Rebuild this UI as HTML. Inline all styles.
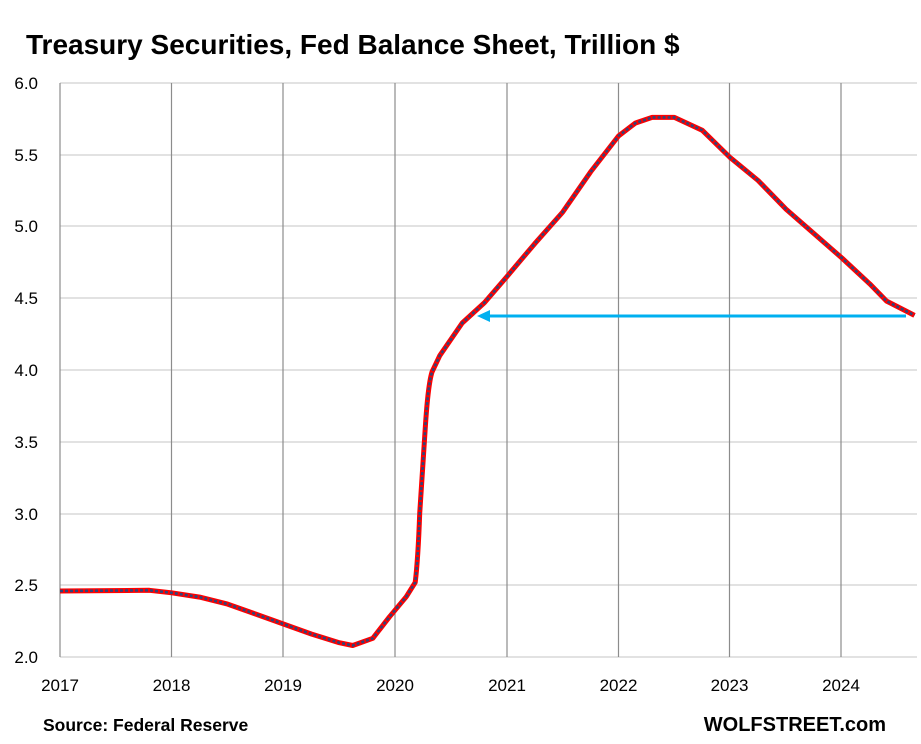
<!DOCTYPE html>
<html><head><style>
body{margin:0;background:#fff;}
svg text{font-family:"Liberation Sans",sans-serif;}
</style></head><body>
<svg width="921" height="739" viewBox="0 0 921 739" xmlns="http://www.w3.org/2000/svg">
<rect width="921" height="739" fill="#fff"/>
<text x="26" y="54" font-size="28" font-weight="bold" fill="#000">Treasury Securities, Fed Balance Sheet, Trillion $</text>
<g stroke="#d9d9d9" stroke-width="1.5">
<line x1="60" y1="83" x2="917" y2="83"/>
<line x1="60" y1="155" x2="917" y2="155"/>
<line x1="60" y1="226" x2="917" y2="226"/>
<line x1="60" y1="298" x2="917" y2="298"/>
<line x1="60" y1="370" x2="917" y2="370"/>
<line x1="60" y1="442" x2="917" y2="442"/>
<line x1="60" y1="514" x2="917" y2="514"/>
<line x1="60" y1="585" x2="917" y2="585"/>
<line x1="60" y1="657" x2="917" y2="657"/>
</g>
<g stroke="#8c8c8c" stroke-width="1.2">
<line x1="60" y1="83" x2="60" y2="657"/>
<line x1="171.5" y1="83" x2="171.5" y2="657"/>
<line x1="283" y1="83" x2="283" y2="657"/>
<line x1="395" y1="83" x2="395" y2="657"/>
<line x1="507" y1="83" x2="507" y2="657"/>
<line x1="618.5" y1="83" x2="618.5" y2="657"/>
<line x1="729.5" y1="83" x2="729.5" y2="657"/>
<line x1="841" y1="83" x2="841" y2="657"/>
</g>
<g font-size="17" fill="#000" text-anchor="end">
<text x="38" y="89">6.0</text><text x="38" y="161">5.5</text><text x="38" y="232">5.0</text><text x="38" y="304">4.5</text><text x="38" y="376">4.0</text><text x="38" y="448">3.5</text><text x="38" y="520">3.0</text><text x="38" y="591">2.5</text><text x="38" y="663">2.0</text>
</g>
<g font-size="17" fill="#000" text-anchor="middle">
<text x="60" y="691">2017</text><text x="171.5" y="691">2018</text><text x="283" y="691">2019</text><text x="395" y="691">2020</text><text x="507" y="691">2021</text><text x="618.5" y="691">2022</text><text x="729.5" y="691">2023</text><text x="841" y="691">2024</text>
</g>
<text x="43" y="731" font-size="17.5" font-weight="bold">Source: Federal Reserve</text>
<text x="886" y="731" font-size="20" font-weight="bold" text-anchor="end">WOLFSTREET.com</text>
<path d="M60,591 L149.4,590.3 L171.7,592.8 L199.6,597.1 L227.6,604.1 L255.5,614 L283.4,624 L311.3,634 L339.3,642.7 L352.7,645.5 L372.8,638.3 L389.5,616.8 L406.3,596.7 L415.2,582.4 Q418,560 419.7,513.5 L425.3,427.4 Q428,385 432,372 L439.8,355.6 L462.2,323 L484.5,302.6 L506.8,276.7 L534.7,243.7 L562.7,212.1 L590.6,171.9 L618.5,136 L635.3,123.1 L652.1,117.4 L674.4,117.4 L702.3,130.3 L730.2,157.6 L758.1,180.5 L786.1,209.2 L814,233.6 L841.9,258 L869.8,283.9 L886.6,301.1 L914.5,315.4" fill="none" stroke="#ff0000" stroke-width="5" stroke-linejoin="round"/>
<path d="M60,591 L149.4,590.3 L171.7,592.8 L199.6,597.1 L227.6,604.1 L255.5,614 L283.4,624 L311.3,634 L339.3,642.7 L352.7,645.5 L372.8,638.3 L389.5,616.8 L406.3,596.7 L415.2,582.4 Q418,560 419.7,513.5 L425.3,427.4 Q428,385 432,372 L439.8,355.6 L462.2,323 L484.5,302.6 L506.8,276.7 L534.7,243.7 L562.7,212.1 L590.6,171.9 L618.5,136 L635.3,123.1 L652.1,117.4 L674.4,117.4 L702.3,130.3 L730.2,157.6 L758.1,180.5 L786.1,209.2 L814,233.6 L841.9,258 L869.8,283.9 L886.6,301.1 L914.5,315.4" fill="none" stroke="#334477" stroke-width="2.6" stroke-dasharray="3 2"/>
<line x1="906" y1="316" x2="488" y2="316" stroke="#00b0f0" stroke-width="3"/>
<polygon points="477,316 490,310 490,322" fill="#00b0f0"/>
</svg>
</body></html>
